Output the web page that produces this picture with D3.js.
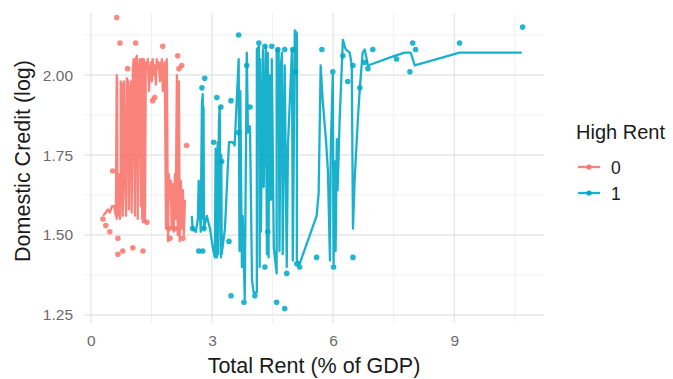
<!DOCTYPE html>
<html>
<head>
<meta charset="utf-8">
<script src="https://cdn.jsdelivr.net/npm/d3@7"></script>
<style>
  html, body { margin: 0; padding: 0; background: #ffffff; }
  svg { display: block; font-family: "Liberation Sans", Arial, sans-serif; }
</style>
</head>
<body>
<svg id="chart" width="673" height="379"></svg>
<script>
// ---- data -------------------------------------------------------------
const groups = ["0", "1"];
const groupColors = ["#F8766D", "#00A8C6"];

const xTicks = [0, 3, 6, 9];
const yTicks = [1.25, 1.50, 1.75, 2.00];

// High Rent = 0 : observations
const lowPtX = [0.64, 0.72, 1.11, 1.78, 2.15, 2.25, 2.18, 0.91, 2.37, 0.30, 0.37, 0.47, 0.67, 0.67, 0.79, 1.04, 1.29, 1.39, 0.54, 1.58, 1.53, 1.93, 1.96, 2.28, 2.08];
const lowPtY = [2.18, 2.10, 2.10, 2.09, 2.06, 2.03, 2.02, 2.02, 1.78, 1.55, 1.53, 1.51, 1.49, 1.44, 1.45, 1.46, 1.45, 1.54, 1.70, 1.93, 1.92, 1.52, 1.49, 1.49, 1.52];

// High Rent = 0 : connecting line (ordered by rent)
const lowLineX = [0.30, 0.37, 0.42, 0.47, 0.52, 0.57, 0.59, 0.62, 0.64, 0.64, 0.65, 0.66, 0.69, 0.69, 0.72, 0.74, 0.74, 0.77, 0.79, 0.82, 0.84, 0.87, 0.89, 0.92, 0.94, 0.97, 0.99, 1.01, 1.04, 1.06, 1.09, 1.11, 1.14, 1.16, 1.19, 1.21, 1.24, 1.26, 1.27, 1.28, 1.29, 1.31, 1.34, 1.36, 1.39, 1.41, 1.44, 1.46, 1.49, 1.51, 1.53, 1.56, 1.58, 1.61, 1.63, 1.66, 1.68, 1.71, 1.73, 1.76, 1.78, 1.81, 1.83, 1.86, 1.88, 1.91, 1.93, 1.96, 1.98, 2.00, 2.03, 2.05, 2.08, 2.10, 2.13, 2.15, 2.18, 2.20, 2.23, 2.25, 2.28, 2.30, 2.33];
const lowLineY = [1.56, 1.57, 1.58, 1.57, 1.59, 1.59, 1.58, 1.56, 2.00, 1.55, 1.99, 1.56, 1.58, 1.69, 1.55, 1.63, 1.98, 1.97, 1.56, 1.98, 1.73, 1.56, 1.99, 1.98, 1.58, 1.95, 1.98, 1.57, 2.02, 2.05, 1.56, 2.05, 2.06, 1.55, 2.02, 2.05, 1.59, 2.05, 1.55, 2.04, 1.54, 2.05, 1.54, 2.04, 2.02, 2.05, 1.95, 2.02, 2.04, 1.98, 2.05, 2.00, 2.03, 1.97, 2.05, 2.02, 2.04, 1.98, 2.03, 2.05, 1.95, 2.03, 2.04, 1.52, 2.05, 1.48, 1.69, 1.61, 1.67, 1.52, 1.66, 1.51, 1.69, 1.55, 2.00, 1.50, 1.98, 1.48, 1.67, 1.52, 1.64, 1.50, 1.61];

// High Rent = 1 : observations
const highPtX = [3.66, 4.16, 4.31, 4.48, 4.63, 4.80, 5.00, 5.72, 6.24, 5.99, 6.36, 6.49, 2.82, 2.75, 3.12, 3.47, 3.22, 3.86, 3.04, 3.24, 3.42, 2.52, 2.67, 2.77, 2.80, 3.47, 3.79, 4.06, 4.60, 4.80, 4.31, 4.38, 4.85, 5.59, 6.01, 6.49, 5.10, 5.17, 3.94, 3.66, 5.07, 6.98, 6.86, 6.66, 6.78, 7.57, 7.97, 8.04, 7.90, 9.13, 10.69];
const highPtY = [2.125, 2.10, 2.09, 2.09, 2.08, 2.08, 2.08, 2.08, 2.06, 2.01, 1.98, 2.03, 1.99, 1.96, 1.93, 1.92, 1.90, 2.03, 1.79, 1.73, 1.48, 1.52, 1.45, 1.45, 1.52, 1.31, 1.29, 1.31, 1.29, 1.27, 1.40, 1.51, 1.38, 1.43, 1.40, 1.43, 1.41, 1.40, 1.90, 1.82, 2.01, 2.08, 2.02, 1.96, 2.04, 2.05, 2.10, 2.08, 2.01, 2.10, 2.15];

// High Rent = 1 : connecting line (ordered by rent)
const highLineX = [2.50, 2.52, 2.60, 2.65, 2.67, 2.72, 2.75, 2.77, 2.78, 2.79, 2.80, 2.87, 2.95, 3.02, 3.07, 3.09, 3.12, 3.14, 3.15, 3.17, 3.19, 3.22, 3.23, 3.24, 3.32, 3.42, 3.51, 3.56, 3.66, 3.68, 3.70, 3.74, 3.76, 3.81, 3.86, 3.89, 3.94, 3.99, 4.03, 4.11, 4.11, 4.16, 4.18, 4.19, 4.21, 4.26, 4.28, 4.33, 4.36, 4.38, 4.40, 4.42, 4.46, 4.48, 4.53, 4.60, 4.60, 4.65, 4.67, 4.70, 4.73, 4.75, 4.80, 4.85, 4.88, 4.98, 5.00, 5.05, 5.10, 5.10, 5.17, 5.59, 5.64, 5.69, 5.74, 5.82, 5.87, 5.92, 5.94, 5.99, 6.01, 6.04, 6.06, 6.09, 6.11, 6.16, 6.24, 6.31, 6.41, 6.46, 6.49, 6.53, 6.61, 6.66, 6.73, 6.78, 6.83, 6.86, 7.52, 7.77, 7.92, 8.02, 9.13, 10.67];
const highLineY = [1.56, 1.52, 1.51, 1.55, 1.67, 1.51, 1.91, 1.94, 1.55, 1.90, 1.52, 1.56, 1.52, 1.46, 1.43, 1.77, 1.43, 1.79, 1.44, 1.85, 1.90, 1.43, 1.75, 1.44, 1.52, 1.79, 1.79, 1.78, 2.05, 1.45, 1.95, 1.40, 1.56, 1.30, 2.07, 1.82, 1.84, 1.36, 1.32, 1.32, 2.08, 2.09, 1.40, 2.05, 1.51, 2.08, 1.65, 2.09, 1.44, 2.07, 1.43, 2.00, 1.61, 2.05, 1.46, 1.38, 2.08, 2.08, 1.45, 2.02, 2.07, 1.44, 2.03, 1.40, 1.78, 2.08, 1.42, 2.14, 2.13, 1.42, 1.41, 1.56, 1.63, 2.03, 1.92, 1.80, 1.70, 1.42, 1.77, 2.00, 1.41, 1.73, 1.45, 1.80, 1.64, 1.86, 2.11, 2.08, 2.07, 2.03, 1.52, 1.67, 1.86, 1.96, 2.07, 2.08, 2.05, 2.03, 2.06, 2.07, 2.07, 2.03, 2.07, 2.07];

const pointSets = [
  { x: lowPtX, y: lowPtY },
  { x: highPtX, y: highPtY }
];
const lineSets = [
  { x: lowLineX, y: lowLineY },
  { x: highLineX, y: highLineY }
];

// ---- layout -----------------------------------------------------------
const svg = d3.select("#chart");
const panel = { left: 84, right: 544, top: 13, bottom: 323 };

const x = d3.scaleLinear().domain([-0.17, 11.22]).range([panel.left, panel.right]);
const y = d3.scaleLinear().domain([1.225, 2.194]).range([panel.bottom, panel.top]);

const color = d3.scaleOrdinal().domain(groups).range(groupColors);

// ---- grid -------------------------------------------------------------
const grid = svg.append("g");
const xMinor = [1.5, 4.5, 7.5, 10.5];
const yMinor = [1.375, 1.625, 1.875, 2.125];

grid.selectAll(".xminor").data(xMinor).join("line")
  .attr("x1", d => x(d)).attr("x2", d => x(d))
  .attr("y1", panel.top).attr("y2", panel.bottom)
  .attr("stroke", "#EBEBEB").attr("stroke-width", 0.8);
grid.selectAll(".yminor").data(yMinor).join("line")
  .attr("y1", d => y(d)).attr("y2", d => y(d))
  .attr("x1", panel.left).attr("x2", panel.right)
  .attr("stroke", "#EBEBEB").attr("stroke-width", 0.8);
grid.selectAll(".xmajor").data(xTicks).join("line")
  .attr("x1", d => x(d)).attr("x2", d => x(d))
  .attr("y1", panel.top).attr("y2", panel.bottom)
  .attr("stroke", "#E6E6E6").attr("stroke-width", 1.4);
grid.selectAll(".ymajor").data(yTicks).join("line")
  .attr("y1", d => y(d)).attr("y2", d => y(d))
  .attr("x1", panel.left).attr("x2", panel.right)
  .attr("stroke", "#E6E6E6").attr("stroke-width", 1.4);

// ---- axes (labels only, minimal theme) --------------------------------
const xAxis = d3.axisBottom(x).tickValues(xTicks).tickFormat(d3.format("d")).tickSize(0).tickPadding(12);
const yAxis = d3.axisLeft(y).tickValues(yTicks).tickFormat(d3.format(".2f")).tickSize(0).tickPadding(11);

const gx = svg.append("g").attr("transform", `translate(0,${panel.bottom})`).call(xAxis);
const gy = svg.append("g").attr("transform", `translate(${panel.left},0)`).call(yAxis);
[gx, gy].forEach(g => {
  g.select(".domain").remove();
  g.selectAll("text").attr("fill", "#6b6b6b").style("font-size", "15.5px")
    .style("font-family", "'Liberation Sans', Arial, sans-serif");
});

// ---- marks ------------------------------------------------------------
const line = d3.line().x(d => x(d[0])).y(d => y(d[1]));

groups.forEach((g, i) => {
  const pts = pointSets[i].x.map((v, k) => [v, pointSets[i].y[k]]);
  svg.append("g").selectAll("circle").data(pts).join("circle")
    .attr("cx", d => x(d[0])).attr("cy", d => y(d[1])).attr("r", 2.8)
    .attr("fill", color(g)).attr("fill-opacity", 0.85);

  const verts = lineSets[i].x.map((v, k) => [v, lineSets[i].y[k]]);
  svg.append("path").datum(verts)
    .attr("d", line)
    .attr("fill", "none")
    .attr("stroke", color(g))
    .attr("stroke-opacity", 0.9)
    .attr("stroke-width", 2.3)
    .attr("stroke-linejoin", "round");
});

// ---- axis titles ------------------------------------------------------
svg.append("text")
  .attr("x", (panel.left + panel.right) / 2).attr("y", 373)
  .attr("text-anchor", "middle")
  .style("font-size", "21.5px").attr("fill", "#1a1a1a")
  .text("Total Rent (% of GDP)");

svg.append("text")
  .attr("transform", `translate(30,${(panel.top + panel.bottom) / 2 - 7}) rotate(-90)`)
  .attr("text-anchor", "middle")
  .style("font-size", "21.5px").attr("fill", "#1a1a1a")
  .text("Domestic Credit (log)");

// ---- legend -----------------------------------------------------------
const legend = svg.append("g").attr("transform", "translate(576,0)");
legend.append("text").attr("x", 0).attr("y", 139)
  .style("font-size", "20px").attr("fill", "#1a1a1a").text("High Rent");

groups.forEach((g, i) => {
  const cy = 167 + i * 26;
  legend.append("line")
    .attr("x1", 2).attr("x2", 24).attr("y1", cy).attr("y2", cy)
    .attr("stroke", color(g)).attr("stroke-width", 2.3).attr("stroke-opacity", 0.9);
  legend.append("circle").attr("cx", 13).attr("cy", cy).attr("r", 2.6)
    .attr("fill", color(g));
  legend.append("text").attr("x", 35).attr("y", cy + 7)
    .style("font-size", "17.5px").attr("fill", "#1a1a1a").text(g);
});
</script>
</body>
</html>
